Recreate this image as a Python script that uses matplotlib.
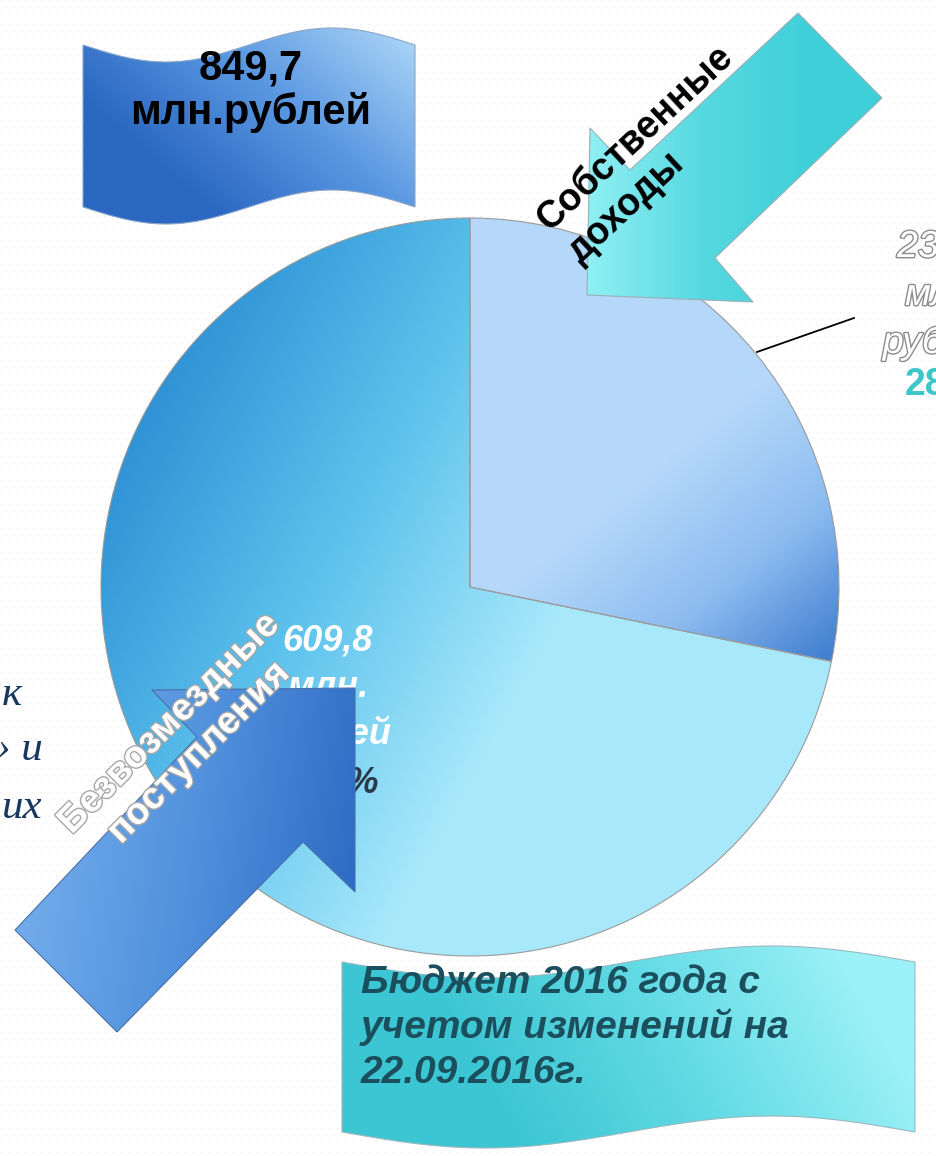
import numpy as np
import matplotlib
matplotlib.use("Agg")
import matplotlib.pyplot as plt
import matplotlib.patheffects as pe
from matplotlib.colors import LinearSegmentedColormap
from matplotlib.patches import Polygon

# --------------------------------------------------
# Data: budget 2016, mln rubles
# --------------------------------------------------
categories = ["Собственные\nдоходы", "Безвозмездные\nпоступления"]
values = [239.9, 609.8]
units = ["млн.", "рублей"]
title_lines = ["Бюджет 2016 года с", "учетом изменений на", "22.09.2016г."]
side_text = ["к", "» и", "их"]

total = sum(values)
shares = [v / total * 100 for v in values]


def ru(x):
    return f"{x:.1f}".replace(".", ",")


W, H = 936, 1156
SANS = "Liberation Sans"

fig = plt.figure(figsize=(W / 100, H / 100), dpi=100)


def gradient(ax, clip, p0, p1, colors, extent, zorder):
    x0, x1, y0, y1 = extent
    gx = np.linspace(x0, x1, 300)
    gy = np.linspace(y0, y1, 300)
    X, Y = np.meshgrid(gx, gy)
    d = np.subtract(p1, p0)
    t = ((X - p0[0]) * d[0] + (Y - p0[1]) * d[1]) / (d @ d)
    cmap = LinearSegmentedColormap.from_list("g", colors)
    im = ax.imshow(np.clip(t, 0, 1), cmap=cmap, vmin=0, vmax=1, origin="lower",
                   extent=(x0, x1, y0, y1), interpolation="bilinear",
                   aspect="auto", zorder=zorder)
    im.set_clip_path(clip)
    return im


# background texture
bg = fig.add_axes([0, 0, 1, 1], zorder=0)
yy, xx = np.mgrid[0:H, 0:W]
tex = np.ones((H, W))
dots = ((yy % 6) == 0) & (((xx + 4 * ((yy // 6) % 2)) % 8) < 2)
tex[dots] = 0.94
bg.imshow(tex, cmap="gray", vmin=0, vmax=1, extent=(0, W, H, 0),
          interpolation="nearest", aspect="auto")
bg.set_axis_off()

# --------------------------------------------------
# Pie
# --------------------------------------------------
cx, cy, r = 470, 587, 369
pax = fig.add_axes([(cx - r) / W, (H - cy - r) / H, 2 * r / W, 2 * r / H], zorder=1)
wedges, _ = pax.pie(values, startangle=90, counterclock=False, radius=1,
                    wedgeprops=dict(facecolor="none", edgecolor="#9a9a9a",
                                    linewidth=0.8, zorder=3))
gradient(pax, wedges[0], (0.55, 0.35), (1.0, -0.2),
         ["#b5d8fa", "#8dbcf0", "#3d7bce"], (-1, 1, -1, 1), 1)
gradient(pax, wedges[1], (-0.95, 0.35), (0.15, -0.25),
         ["#2f93d6", "#5cc2ec", "#a8e8fb"], (-1, 1, -1, 1), 1)
pax.set_xlim(-1, 1)
pax.set_ylim(-1, 1)
pax.set_axis_off()

# --------------------------------------------------
# Overlay in pixel coordinates
# --------------------------------------------------
ov = fig.add_axes([0, 0, 1, 1], zorder=2)
ov.set_axis_off()


def wave_pts(x0, x1, ytop, ybot, amp, n=80):
    t = np.linspace(0, 1, n)
    xs = x0 + (x1 - x0) * t
    top = np.column_stack([xs, ytop + amp * np.sin(2 * np.pi * t)])
    bot = np.column_stack([xs[::-1], ybot + amp * np.sin(2 * np.pi * t[::-1])])
    return np.vstack([top, bot])


def shape(pts, p0, p1, colors, edge, z):
    poly = Polygon(pts, closed=True, facecolor="none", edgecolor=edge,
                   linewidth=0.8, zorder=z + 0.5)
    ov.add_patch(poly)
    xs, ys = np.asarray(pts)[:, 0], np.asarray(pts)[:, 1]
    gradient(ov, poly, p0, p1, colors,
             (xs.min() - 2, xs.max() + 2, ys.min() - 2, ys.max() + 2), z)


# top-left ribbon with the total
shape(wave_pts(83, 415, 45, 207, 17), (400, 30), (230, 225),
      ["#a8d3f6", "#5b98e2", "#2b68c2"], "#8aa6c8", 2)
ov.text(251, 79, ru(total), fontsize=30, fontweight="bold", family=SANS,
        ha="center", va="baseline", color="black", zorder=4)
ov.text(251, 124, units[0] + units[1], fontsize=30, fontweight="bold",
        family=SANS, ha="center", va="baseline", color="black", zorder=4)

# bottom-right ribbon with the date
shape(wave_pts(342, 915, 962, 1132, 16), (850, 965), (520, 1145),
      ["#9cf1f7", "#63dbe5", "#3cc6d3"], "#9ab8bf", 2)
for i, line in enumerate(title_lines):
    ov.text(361, 993 + 45 * i, line, fontsize=28, fontweight="bold",
            fontstyle="italic", family=SANS, ha="left", va="baseline",
            color="#1b4f5e", zorder=4)

# label of slice 2 (under the blue arrow)
lab2 = [ru(values[1]), units[0], units[1]]
for i, line in enumerate(lab2):
    ov.text(328, 650 + 47 * i, line, fontsize=26, fontweight="bold",
            fontstyle="italic", family=SANS, ha="center", va="baseline",
            color="white", zorder=3)
ov.text(328, 792, ru(shares[1]) + "%", fontsize=26, fontweight="bold",
        fontstyle="italic", family=SANS, ha="center", va="baseline",
        color="#2b3a4a", zorder=3)

# label of slice 1 (outside, cut by the slide edge as in the slide)
outline = [pe.withStroke(linewidth=2, foreground="#8c8c8c")]
lab1 = [ru(values[0]), units[0], units[1]]
for i, line in enumerate(lab1):
    ov.text(944, 257 + 48 * i, line, fontsize=27, fontstyle="italic",
            family=SANS, ha="center", va="baseline", color="white",
            path_effects=outline, zorder=4)
ov.text(958, 395, ru(shares[0]) + "%", fontsize=27, fontweight="bold",
        family=SANS, ha="center", va="baseline", color="#3cc8c8", zorder=4)
ov.plot([757, 854], [352, 318], color="black", linewidth=1.3, zorder=4)

# arrows
cyan_arrow = [(587, 295), (753, 302), (715, 258), (882, 98),
              (798, 13), (630, 170), (590, 128)]
shape(cyan_arrow, (590, 200), (820, 200),
      ["#8eeff4", "#55d8e0", "#3ecfd9"], "#9ab0b4", 5)
blue_arrow = [(355, 688), (152, 690), (197, 737), (15, 930),
              (117, 1032), (303, 842), (355, 892)]
shape(blue_arrow, (40, 850), (355, 900),
      ["#70aaea", "#4f8fdc", "#2e6bc4"], "#4a70a8", 5)

# arrow captions
ov.text(651, 154, categories[0], rotation=43, rotation_mode="anchor",
        fontsize=27, fontweight="bold", family=SANS, ha="center",
        va="center", multialignment="left", linespacing=1.3,
        color="black", zorder=7)
ov.text(184, 738, categories[1], rotation=45, rotation_mode="anchor",
        fontsize=27, fontweight="bold", family=SANS, ha="center",
        va="center", multialignment="center", linespacing=1.2,
        color="white", zorder=7,
        path_effects=[pe.withStroke(linewidth=2, foreground="#a8a8a8")])

# text cut by the left edge
for txt, x, y in zip(side_text, [22, 43, 42], [705, 760, 818]):
    ov.text(x, y, txt, fontsize=31, fontstyle="italic",
            family="Liberation Serif", ha="right", va="baseline",
            color="#17375e", zorder=4)

ov.set_xlim(0, W)
ov.set_ylim(H, 0)
bg.set_xlim(0, W)
bg.set_ylim(H, 0)

fig.savefig("out.png", dpi=100)
plt.close(fig)
